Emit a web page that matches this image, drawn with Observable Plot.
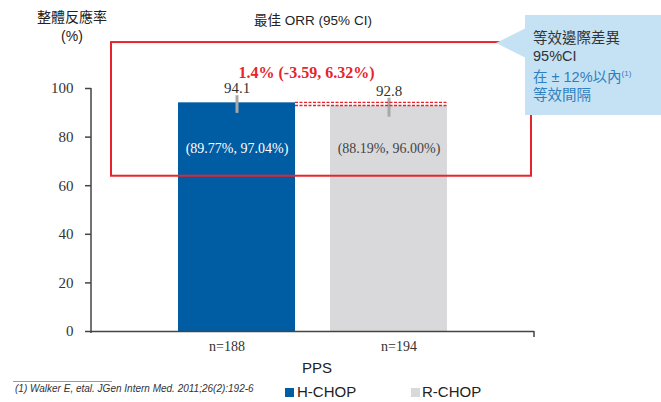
<!DOCTYPE html>
<html>
<head>
<meta charset="utf-8">
<script src="https://cdn.jsdelivr.net/npm/d3@7"></script>
<script src="https://cdn.jsdelivr.net/npm/@observablehq/plot@0.6"></script>
<style>
  body { margin: 0; background: #fff; }
  #wrap { position: relative; width: 661px; height: 402px; overflow: hidden; font-family: "Liberation Sans", "Noto Sans CJK TC", sans-serif; color: #222; }
  .abs { position: absolute; white-space: nowrap; }
</style>
</head>
<body>
<div id="wrap"></div>
<script>
// ---- data ----
const groups = ["H-CHOP", "R-CHOP"];
const orr = [94.1, 92.8];
const ciLow = [89.77, 88.19];
const ciHigh = [97.04, 96.00];
const nLabels = ["n=188", "n=194"];
const ciLabels = ["(89.77%, 97.04%)", "(88.19%, 96.00%)"];
const yTicks = [0, 20, 40, 60, 80, 100];
const diffLabel = "1.4% (-3.59, 6.32%)";
const diffLevels = [94.1, 92.8];
const boxRange = [63.9, 118.9];
const ciLabelY = 75.3;
const diffLabelY = 106.3;

const barColors = ["#005ca3", "#d9d9db"];
const red = "#e8232b";

const data = groups.map((g, i) => ({group: g, orr: orr[i], lo: ciLow[i], hi: ciHigh[i], ci: ciLabels[i], n: nLabels[i]}));

const annot = (index, scales, values, dimensions) => {
  const {x, y} = scales;
  const bw = x.bandwidth();
  const g = d3.create("svg:g");
  const L = dimensions.marginLeft, R = dimensions.width - dimensions.marginRight;
  // vertical axis line
  g.append("line").attr("x1", L).attr("x2", L).attr("y1", y(0) + 2).attr("y2", y(100))
    .attr("stroke", "#444").attr("stroke-width", 1.5);
  // right end tick
  g.append("line").attr("x1", R).attr("x2", R).attr("y1", y(0)).attr("y2", y(0) + 6)
    .attr("stroke", "#444").attr("stroke-width", 1.5);
  // dashed difference lines
  for (const v of diffLevels) {
    g.append("line").attr("x1", x(groups[0]) + bw).attr("x2", x(groups[1]) + bw)
      .attr("y1", y(v)).attr("y2", y(v))
      .attr("stroke", red).attr("stroke-width", 1.3).attr("stroke-dasharray", "3,1.5");
  }
  // red box
  g.append("rect").attr("x", L + 20).attr("y", y(boxRange[1]))
    .attr("width", (R - 3) - (L + 20)).attr("height", y(boxRange[0]) - y(boxRange[1]))
    .attr("fill", "none").attr("stroke", red).attr("stroke-width", 2);
  // red difference text
  g.append("text").attr("x", (x(groups[0]) + x(groups[1]) + bw) / 2 - 6).attr("y", y(diffLabelY))
    .attr("dy", "0.35em").attr("text-anchor", "middle")
    .attr("font-family", "Liberation Serif").attr("font-weight", "bold").attr("font-size", 16)
    .attr("fill", red).text(diffLabel);
  return g.node();
};

const chart = Plot.plot({
  width: 661,
  height: 402,
  marginLeft: 91,
  marginRight: 127,
  marginTop: 88,
  marginBottom: 71,
  x: {domain: groups, paddingInner: 0.23, paddingOuter: 0.572, axis: null},
  y: {domain: [0, 100], axis: null},
  color: {domain: groups, range: barColors},
  style: {fontFamily: "Liberation Serif", fontSize: "15px", color: "#333", overflow: "visible", background: "transparent"},
  marks: [
    Plot.barY(data, {x: "group", y: "orr", fill: "group"}),
    Plot.ruleX(data, {x: "group", y1: "lo", y2: "hi", stroke: "#a8a8a8", strokeWidth: 3}),
    Plot.ruleY([0], {stroke: "#444", strokeWidth: 1.5}),
    annot,
    Plot.text(data, {x: "group", y: "orr", text: d => d.orr.toFixed(1), dy: -15, fontSize: 15, fill: "#333"}),
    Plot.text(data, {filter: d => d.group === groups[0], x: "group", y: () => ciLabelY, text: "ci", fontSize: 14, fill: "#ffffff"}),
    Plot.text(data, {filter: d => d.group === groups[1], x: "group", y: () => ciLabelY, text: "ci", fontSize: 14, fill: "#444"}),
    Plot.axisY({ticks: yTicks, tickSize: 6, tickPadding: 12, color: "#333", stroke: "#444", strokeWidth: 1.5, fontSize: 15, label: null}),
    Plot.axisX({ticks: [groups[0]], tickFormat: () => nLabels[0], tickSize: 0, tickPadding: 10, dx: -10, fontSize: 14, color: "#333", label: null}),
    Plot.axisX({ticks: [groups[1]], tickFormat: () => nLabels[1], tickSize: 0, tickPadding: 10, dx: 10, fontSize: 14, color: "#333", label: null})
  ]
});

const wrap = document.getElementById("wrap");
wrap.appendChild(chart);

function addDiv(html, css) {
  const d = document.createElement("div");
  d.className = "abs";
  d.innerHTML = html;
  Object.assign(d.style, css);
  wrap.appendChild(d);
  return d;
}

// title & y label
addDiv("最佳 ORR (95% CI)", {left: "213px", width: "200px", textAlign: "center", top: "12px", fontSize: "13.5px", lineHeight: "18px"});
addDiv("整體反應率<br>(%)", {left: "22px", width: "100px", textAlign: "center", top: "8px", fontSize: "14px", lineHeight: "19px"});
// x title
addDiv("PPS", {left: "267px", width: "100px", textAlign: "center", top: "359px", fontSize: "15px", lineHeight: "18px"});
// footnote
addDiv("", {left: "13px", top: "381px", width: "99px", height: "0", borderTop: "1px solid #999"});
addDiv("(1) Walker E, etal. JGen Intern Med. 2011;26(2):192-6", {left: "15px", top: "383px", fontSize: "10px", fontStyle: "italic", lineHeight: "12px", color: "#333"});
// legend
addDiv("", {left: "285px", top: "388px", width: "9px", height: "9px", background: barColors[0]});
addDiv("H-CHOP", {left: "297px", top: "383px", fontSize: "15px", lineHeight: "18px"});
addDiv("", {left: "411px", top: "388px", width: "9px", height: "9px", background: barColors[1]});
addDiv("R-CHOP", {left: "422px", top: "383px", fontSize: "15px", lineHeight: "18px"});
// callout
const calloutColor = "#c4e2f3";
addDiv("", {left: "496px", top: "28px", width: "0", height: "0", borderTop: "15px solid transparent", borderBottom: "15px solid transparent", borderRight: "30px solid " + calloutColor});
addDiv(
  '<div style="color:#333">等效邊際差異</div><div style="color:#333">95%CI</div>' +
  '<div style="color:#2e7fc1">在 ± 12%以內<sup style="font-size:8px;vertical-align:6px">(1)</sup></div>' +
  '<div style="color:#2e7fc1">等效間隔</div>',
  {left: "525px", top: "15px", width: "136px", height: "100px", background: calloutColor, boxSizing: "border-box", padding: "14px 0 0 8px", fontSize: "14.5px", lineHeight: "18px"}
);
</script>
</body>
</html>
